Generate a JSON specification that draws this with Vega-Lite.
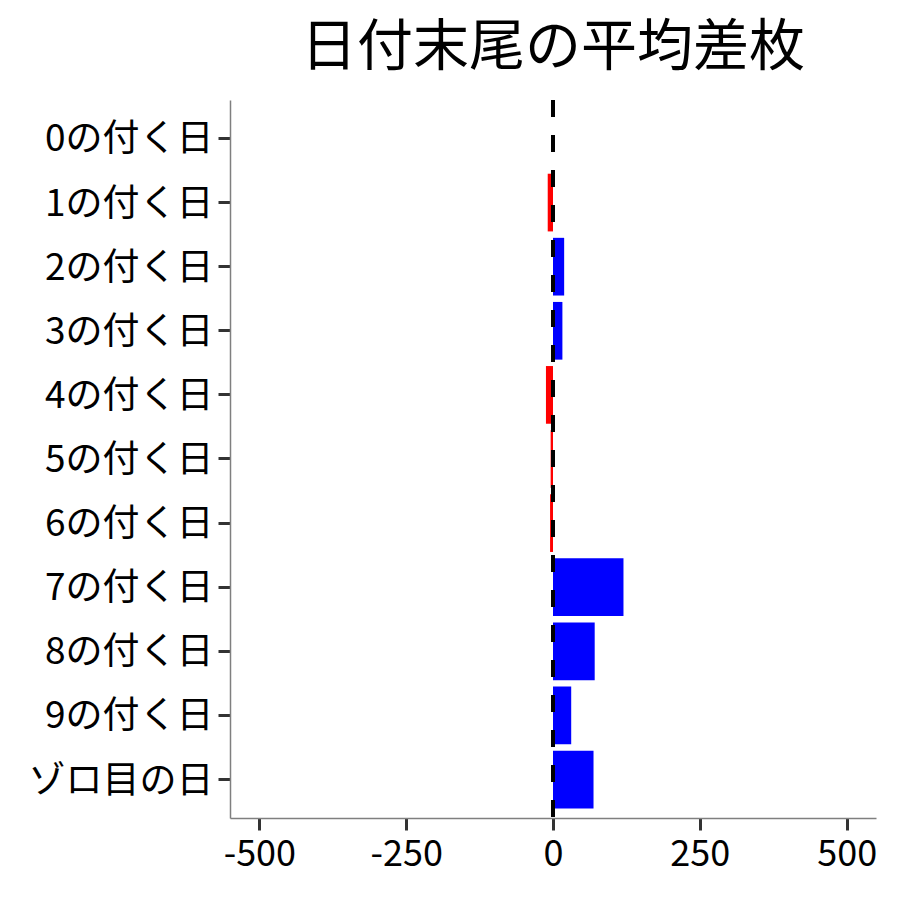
{
  "$schema": "https://vega.github.io/schema/vega-lite/v6.json",
  "autosize": "none",
  "padding": {"left": 230, "top": 100, "right": 24, "bottom": 82},
  "width": 646,
  "height": 718,
  "background": "white",
  "config": {
    "font": "Noto Sans CJK JP",
    "view": {"stroke": null},
    "axis": {"grid": false, "labelFont": "Noto Sans CJK JP", "labelFontSize": 36, "labelColor": "black", "labelLimit": 0, "domainColor": "#7f7f7f", "domainWidth": 1.5, "tickColor": "#333333", "tickWidth": 3, "tickSize": 12, "title": null}
  },
  "title": {"text": "日付末尾の平均差枚", "fontSize": 56, "font": "Noto Sans CJK JP", "fontWeight": "normal", "color": "black", "anchor": "middle", "offset": 21},
  "data": {"values": [
    {"day": "0の付く日", "value": 0},
    {"day": "1の付く日", "value": -9},
    {"day": "2の付く日", "value": 19},
    {"day": "3の付く日", "value": 16},
    {"day": "4の付く日", "value": -12},
    {"day": "5の付く日", "value": -4},
    {"day": "6の付く日", "value": -5},
    {"day": "7の付く日", "value": 120},
    {"day": "8の付く日", "value": 71},
    {"day": "9の付く日", "value": 31},
    {"day": "ゾロ目の日", "value": 69}
  ]},
  "layer": [
    {
      "mark": {"type": "bar"},
      "encoding": {
        "y": {"field": "day", "type": "nominal", "sort": null, "scale": {"paddingInner": 0.1, "paddingOuter": 0.15}, "axis": {"labelPadding": 5, "labelFontSize": 37, "labelLimit": 0, "labelOffset": 2}},
        "x": {"field": "value", "type": "quantitative", "scale": {"domain": [-550, 550], "nice": false, "zero": false}, "axis": {"values": [-500, -250, 0, 250, 500], "labelPadding": 7, "labelFlush": false, "labelExpr": "replace(datum.label, '−', '-')"}},
        "color": {"condition": {"test": "datum.value < 0", "value": "#ff0000"}, "value": "#0000ff"}
      }
    },
    {
      "data": {"values": [{"z": 0}]},
      "mark": {"type": "rule", "color": "black", "strokeWidth": 4, "strokeDash": [17, 18]},
      "encoding": {"x": {"field": "z", "type": "quantitative"}}
    }
  ]
}
